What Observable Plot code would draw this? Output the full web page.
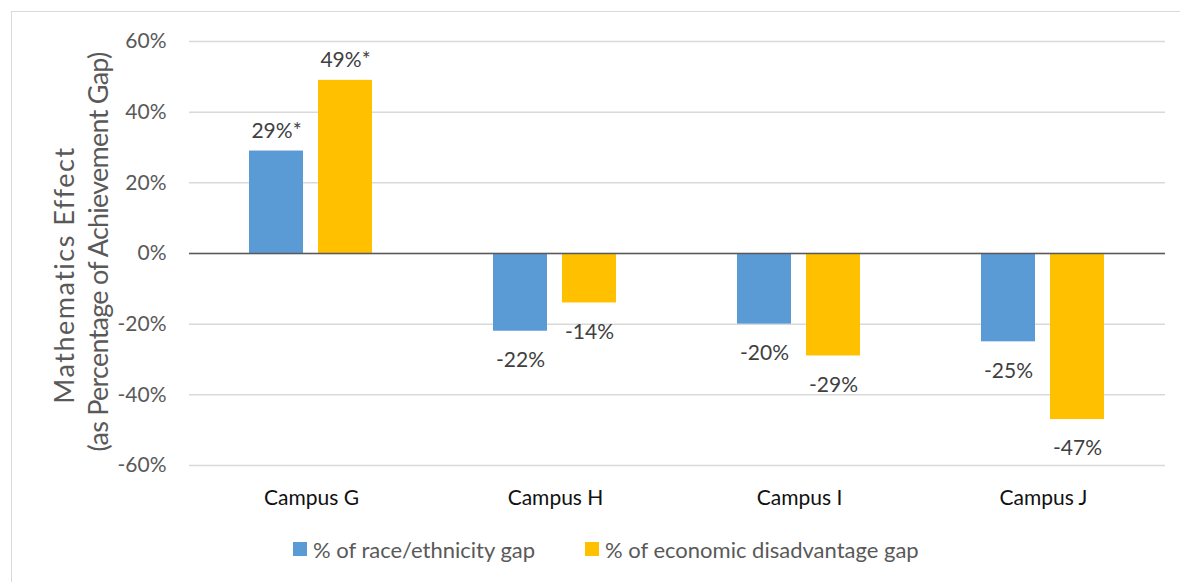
<!DOCTYPE html>
<html>
<head>
<meta charset="utf-8">
<script src="https://cdn.jsdelivr.net/npm/d3@7"></script>
<script src="https://cdn.jsdelivr.net/npm/@observablehq/plot@0.6"></script>
<style>
  html, body { margin: 0; padding: 0; background: #fff; overflow: hidden; }
  body { width: 1180px; height: 582px; position: relative; font-family: Lato, "Open Sans", sans-serif; }
  #frame { position: absolute; left: 11px; top: 11px; width: 1180px; height: 600px; border: 1.5px solid #d9d9d9; box-sizing: border-box; }
  #chart { position: absolute; left: 0; top: 0; }
  .ytitle { position: absolute; transform: translate(-50%, -50%) rotate(-90deg); white-space: nowrap; color: #595959; font-size: 27px; line-height: 1; }
  #legend { position: absolute; left: 0; top: 0; width: 1180px; height: 582px; pointer-events: none; }
  .lg { position: absolute; display: flex; align-items: center; color: #595959; font-size: 22px; white-space: nowrap; }
  .sw { width: 14px; height: 14px; margin-right: 6px; }
  g[aria-label="y-axis tick label"] text { fill: #595959; }
  g[aria-label="fx-axis tick label"] text { fill: #111; }
</style>
</head>
<body>
<div id="frame"></div>
<div id="chart"></div>
<div class="ytitle" id="yt1" style="left:63px; top:275px; letter-spacing:1.5px;"></div>
<div class="ytitle" id="yt2" style="left:97px; top:252px; letter-spacing:-0.75px;"></div>
<div id="legend"></div>
<script>
const campuses = ["Campus G", "Campus H", "Campus I", "Campus J"];
const series = ["% of race/ethnicity gap", "% of economic disadvantage gap"];
const raceValues = [29, -22, -20, -25];
const econValues = [49, -14, -29, -47];
const raceLabels = ["29%*", "-22%", "-20%", "-25%"];
const econLabels = ["49%*", "-14%", "-29%", "-47%"];
const colors = ["#5B9BD5", "#FFC000"];
const yTicks = [-60, -40, -20, 0, 20, 40, 60];
const yTitle = ["Mathematics Effect", "(as Percentage of Achievement Gap)"];

const data = [];
campuses.forEach((c, i) => {
  data.push({campus: c, series: series[0], value: raceValues[i], label: raceLabels[i]});
  data.push({campus: c, series: series[1], value: econValues[i], label: econLabels[i]});
});
const pos = data.filter(d => d.value >= 0);
const neg = data.filter(d => d.value < 0);

const chart = Plot.plot({
  width: 1180,
  height: 520,
  marginLeft: 188,
  marginRight: 14,
  marginTop: 41,
  marginBottom: 55,
  style: {fontFamily: "Lato, 'Open Sans', sans-serif", fontSize: "21px", background: "transparent"},
  fx: {domain: campuses, padding: 0, label: null},
  x: {domain: series, paddingInner: 0.214, paddingOuter: 0.853, axis: null},
  y: {domain: [-60, 60], label: null},
  color: {domain: series, range: colors},
  marks: [
    Plot.gridY(yTicks, {stroke: "#d9d9d9", strokeOpacity: 1, strokeWidth: 1.5}),
    Plot.axisY({ticks: yTicks, tickFormat: d => d + "%", tickSize: 0, tickPadding: 23, fontSize: 21, fill: "#595959", label: null}),
    Plot.axisFx({anchor: "bottom", tickSize: 0, tickPadding: 25, fontSize: 21, fill: "#111", label: null}),
    Plot.barY(data, {fx: "campus", x: "series", y: "value", fill: "series"}),
    Plot.ruleY([0], {stroke: "#595959", strokeWidth: 1.5}),
    Plot.text(pos, {fx: "campus", x: "series", y: "value", text: "label", lineAnchor: "bottom", dy: -13, fill: "#404040", fontSize: 21}),
    Plot.text(neg, {fx: "campus", x: "series", y: "value", text: "label", lineAnchor: "top", dy: 21, fill: "#404040", fontSize: 21})
  ]
});
document.getElementById("chart").appendChild(chart);

document.getElementById("yt1").textContent = yTitle[0];
document.getElementById("yt2").textContent = yTitle[1];

const legend = document.getElementById("legend");
const legendX = [293, 585];
series.forEach((s, i) => {
  const item = document.createElement("div");
  item.className = "lg";
  item.style.left = legendX[i] + "px";
  item.style.top = "536px";
  item.style.height = "26px";
  const sw = document.createElement("div");
  sw.className = "sw";
  sw.style.background = colors[i];
  const t = document.createElement("span");
  t.textContent = s;
  item.appendChild(sw);
  item.appendChild(t);
  legend.appendChild(item);
});
</script>
</body>
</html>
